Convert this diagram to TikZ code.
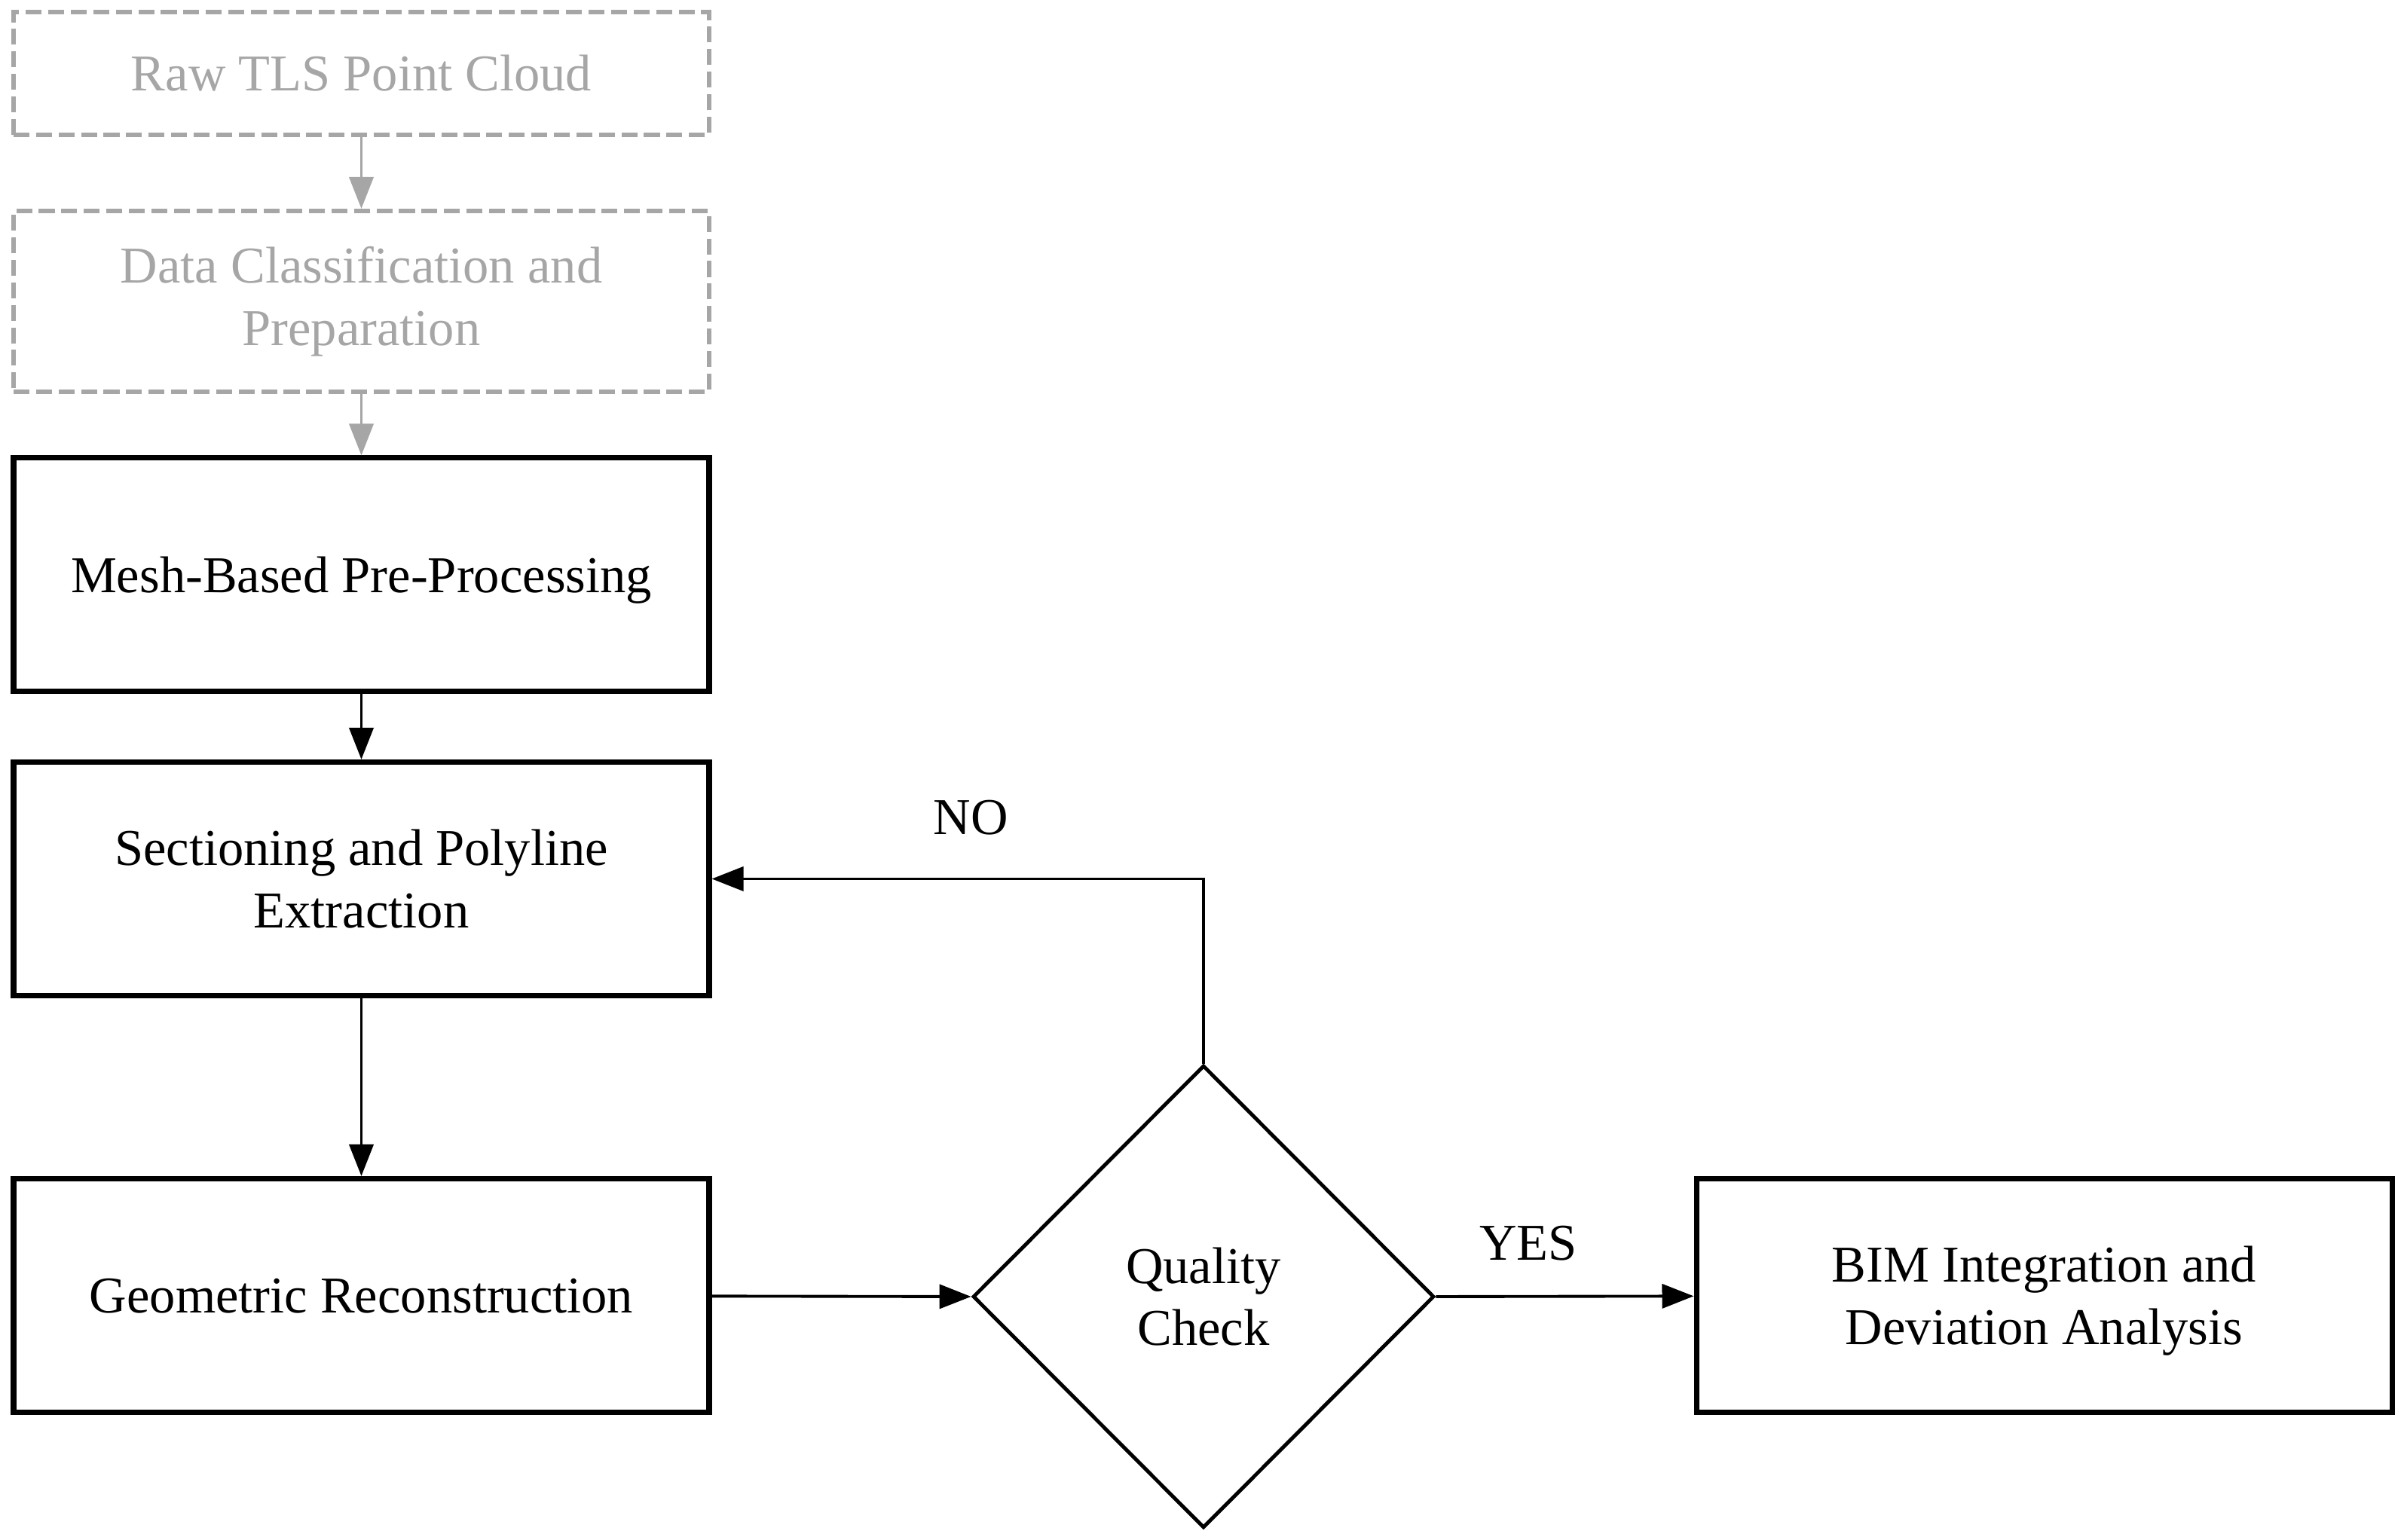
\documentclass[tikz,border=0pt]{standalone}
\usepackage{fontspec}
\setmainfont{Liberation Serif}
\usepackage{tikz}
\usetikzlibrary{arrows.meta,shapes.geometric}

\begin{document}
\begin{tikzpicture}[
    font=\fontsize{19.5}{23.5}\selectfont,
    stepbox/.style={draw, line width=2pt, minimum width=9.23cm, minimum height=3.1cm, align=center, inner sep=0pt, text depth=0pt},
    oldbox/.style={draw=black!35, text=black!35, dashed, dash pattern=on 6pt off 2.5pt, line width=1.7pt, minimum width=9.23cm, align=center, inner sep=0pt},
    flow/.style={line width=1.1pt, -{Triangle[length=0.42cm, width=0.32cm]}},
    oldflow/.style={flow, draw=black!35, -{Triangle[length=0.42cm, width=0.32cm, black!35]}}
]
\useasboundingbox (0,0) rectangle (31.86,20.44);

% Earlier stages (greyed out)
\node[oldbox, minimum height=1.63cm] (raw) at (4.795,19.465) {Raw TLS Point Cloud};
\node[oldbox, minimum height=2.40cm] (prep) at (4.795,16.44) {Data Classification and\\Preparation};

% Main stages
\node[stepbox] (mesh) at (4.795,12.81) {Mesh-Based Pre-Processing};
\node[stepbox] (sect) at (4.795,8.775) {Sectioning and Polyline\\Extraction};
\node[stepbox] (geo) at (4.795,3.245) {Geometric Reconstruction};
\node[draw, diamond, line width=1.4pt, minimum width=6.12cm, minimum height=6.14cm, align=center, inner sep=0pt] (check) at (15.97,3.23) {Quality\\Check};
\node[stepbox] (bim) at (27.125,3.245) {BIM Integration and\\Deviation Analysis};

% Connectors
\draw[oldflow] (raw) -- (prep);
\draw[oldflow] (prep) -- (mesh);
\draw[flow] (mesh) -- (sect);
\draw[flow] (sect) -- (geo);
\draw[flow] (geo) -- (check.west);
\draw[flow] (check.east) -- (bim);
\draw[flow] (check.north) |- (sect.east);

% Labels
\node (no) at (12.88,9.59) {NO};
\node (yes) at (20.28,3.94) {YES};
\end{tikzpicture}
\end{document}
